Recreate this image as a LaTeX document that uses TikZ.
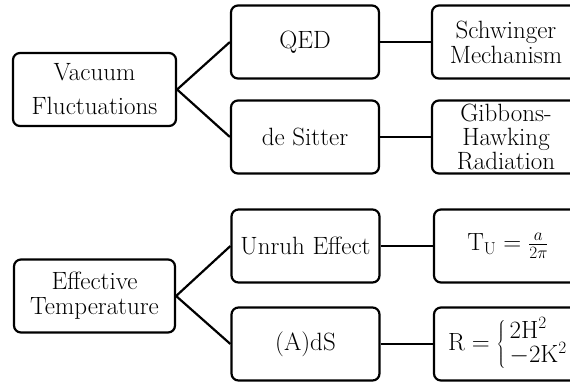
\documentclass[tikz,border=0pt]{standalone}
\usepackage{tikz}
\tikzset{
  fcbox/.style={draw, rounded corners=7pt, line width=2.2pt, align=center,
    inner sep=0pt, minimum height=73pt, font=\fontsize{25}{25}\selectfont},
  fcline/.style={line width=2.2pt}
}
\newcommand{\fcnode}[4] {\node at (#1) (#2) [fcbox, minimum width=#3] {#4};}
\newcommand{\fclink}[2] {\draw [fcline] (#1.east) -- (#2.west);}

\begin{document}
\begin{tikzpicture}[x=1pt, y=-1pt]
\useasboundingbox (0,0) rectangle (570,381);

\fcnode {94.5,89.5}{vacuum}{163pt}{Vacuum\\[9pt]Fluctuations};
\fcnode {305,42}{qed}{148pt}{QED};
\fcnode {305,137}{desitter}{148pt}{de Sitter};
\fcnode {506,42}{schwinger}{148pt}{Schwinger\\Mechanism};
\fcnode {506,137}{gibbons}{148pt}{Gibbons-\\[-1pt]Hawking\\[-1pt]Radiation};

\fcnode {94.5,296}{efftemp}{161pt}{Effective\\Temperature};
\fcnode {305.5,246}{unruh}{148pt}{Unruh Effect};
\fcnode {305.5,344}{ads}{148pt}{(A)dS};
\fcnode {508,246}{tunruh}{148pt}{$\mathrm{T}_{\mathrm{U}}=\frac{a}{2\pi}$};
\fcnode {508,344}{rcurv}{148pt}{$\mathrm{R}=\left\{\,\begin{array}{@{}l@{}}2\mathrm{H}^2\\[-3pt]-2\mathrm{K}^2\end{array}\right.$};

\fclink{vacuum}{qed};
\fclink{vacuum}{desitter};
\fclink{qed}{schwinger};
\fclink{desitter}{gibbons};
\fclink{efftemp}{unruh};
\fclink{efftemp}{ads};
\fclink{unruh}{tunruh};
\fclink{ads}{rcurv};

\end{tikzpicture}
\end{document}
